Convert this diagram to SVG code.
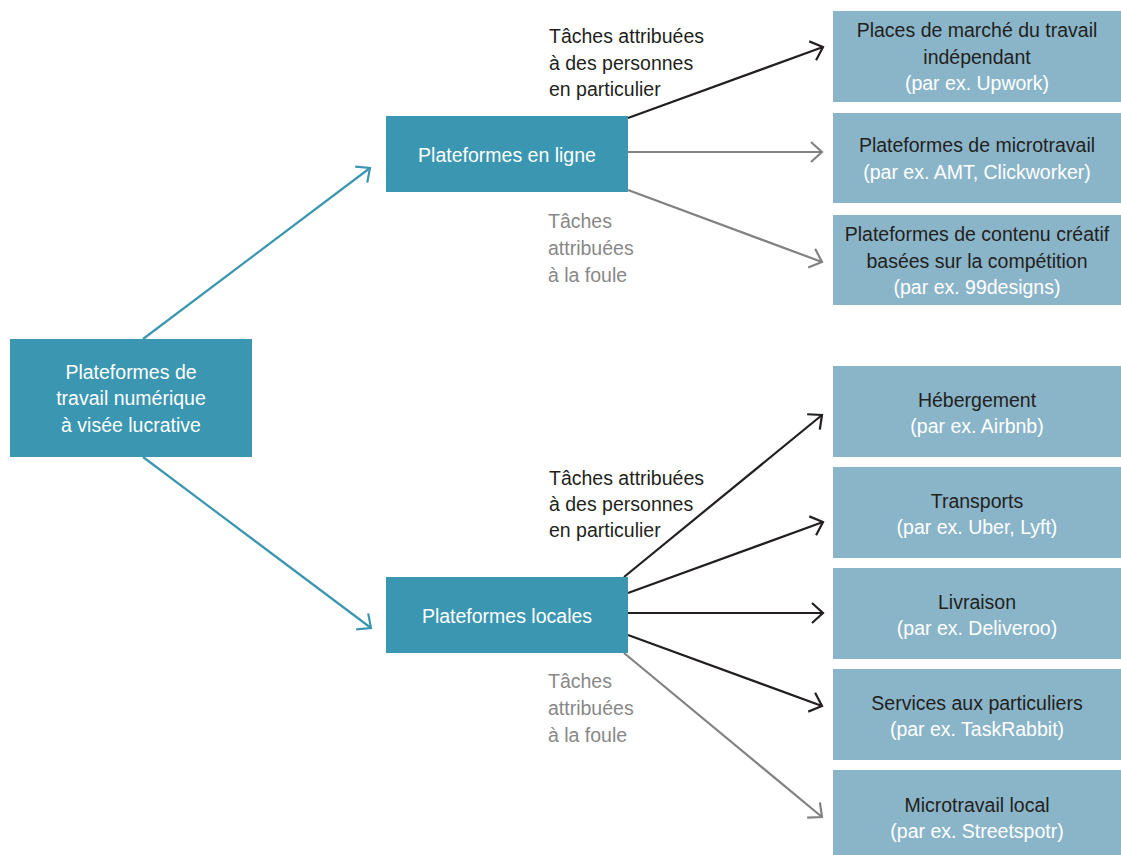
<svg xmlns="http://www.w3.org/2000/svg" width="1121" height="855" viewBox="0 0 1121 855">
<style>
text{font-family:"Liberation Sans",Arial,sans-serif;font-size:19.5px}
.dark{fill:#3b96b1}
.light{fill:#8ab5c9}
.wt{fill:#ffffff}
.bt{fill:#231f20}
.gt{fill:#888888}
.c{text-anchor:middle}
.lt{stroke:#3b96b1;stroke-width:2.2;fill:none}
.lb{stroke:#231f20;stroke-width:2.2;fill:none}
.lg{stroke:#828282;stroke-width:2.2;fill:none}
</style>
<defs>
<marker id="mt" viewBox="-14 -12 16 24" markerWidth="16" markerHeight="24" refX="0" refY="0" markerUnits="userSpaceOnUse" orient="auto"><path d="M-11,-10 L0,0 L-11,10" fill="none" stroke="#3b96b1" stroke-width="2.2"/></marker>
<marker id="mb" viewBox="-14 -12 16 24" markerWidth="16" markerHeight="24" refX="0" refY="0" markerUnits="userSpaceOnUse" orient="auto"><path d="M-11,-10 L0,0 L-11,10" fill="none" stroke="#231f20" stroke-width="2.2"/></marker>
<marker id="mg" viewBox="-14 -12 16 24" markerWidth="16" markerHeight="24" refX="0" refY="0" markerUnits="userSpaceOnUse" orient="auto"><path d="M-11,-10 L0,0 L-11,10" fill="none" stroke="#828282" stroke-width="2.2"/></marker>
</defs>
<g id="connectors">
<line class="lt" x1="143" y1="339" x2="370" y2="168" marker-end="url(#mt)"/>
<line class="lt" x1="143" y1="457" x2="371" y2="628" marker-end="url(#mt)"/>
<line class="lb" x1="628" y1="118" x2="823" y2="47" marker-end="url(#mb)"/>
<line class="lg" x1="628" y1="152" x2="822" y2="152" marker-end="url(#mg)"/>
<line class="lg" x1="628" y1="190" x2="822" y2="262" marker-end="url(#mg)"/>
<line class="lb" x1="624" y1="577" x2="822" y2="415" marker-end="url(#mb)"/>
<line class="lb" x1="628" y1="593" x2="823" y2="522" marker-end="url(#mb)"/>
<line class="lb" x1="628" y1="613" x2="823" y2="613" marker-end="url(#mb)"/>
<line class="lb" x1="628" y1="635" x2="822" y2="706" marker-end="url(#mb)"/>
<line class="lg" x1="624" y1="653" x2="822" y2="817" marker-end="url(#mg)"/>
</g>
<g id="labels">
<text class="bt" x="549"><tspan x="549" y="43">Tâches attribuées</tspan><tspan x="549" y="69.5">à des personnes</tspan><tspan x="549" y="96">en particulier</tspan></text>
<text class="gt" x="548"><tspan x="548" y="228">Tâches</tspan><tspan x="548" y="255">attribuées</tspan><tspan x="548" y="282">à la foule</tspan></text>
<text class="bt" x="549"><tspan x="549" y="485">Tâches attribuées</tspan><tspan x="549" y="511">à des personnes</tspan><tspan x="549" y="537">en particulier</tspan></text>
<text class="gt" x="548"><tspan x="548" y="688">Tâches</tspan><tspan x="548" y="715">attribuées</tspan><tspan x="548" y="742">à la foule</tspan></text>
</g>
<g id="root">
<rect class="dark" x="10" y="339" width="242" height="118"/>
<text class="wt c"><tspan x="131" y="379">Plateformes de</tspan><tspan x="131" y="405">travail numérique</tspan><tspan x="131" y="432">à visée lucrative</tspan></text>
</g>
<g id="en-ligne">
<rect class="dark" x="386" y="116" width="242" height="76"/>
<text class="wt c" x="507" y="162">Plateformes en ligne</text>
</g>
<g id="locales">
<rect class="dark" x="386" y="577" width="242" height="76"/>
<text class="wt c" x="507" y="623">Plateformes locales</text>
</g>
<g id="freelance">
<rect class="light" x="833" y="11" width="288" height="91"/>
<text class="c"><tspan class="bt" x="977" y="37">Places de marché du travail</tspan><tspan class="bt" x="977" y="63.5">indépendant</tspan><tspan class="wt" x="977" y="90">(par ex. Upwork)</tspan></text>
</g>
<g id="microtravail">
<rect class="light" x="833" y="113" width="288" height="90"/>
<text class="c"><tspan class="bt" x="977" y="152">Plateformes de microtravail</tspan><tspan class="wt" x="977" y="179">(par ex. AMT, Clickworker)</tspan></text>
</g>
<g id="creatif">
<rect class="light" x="833" y="215" width="288" height="90"/>
<text class="c"><tspan class="bt" x="977" y="241">Plateformes de contenu créatif</tspan><tspan class="bt" x="977" y="268">basées sur la compétition</tspan><tspan class="wt" x="977" y="294">(par ex. 99designs)</tspan></text>
</g>
<g id="hebergement">
<rect class="light" x="833" y="366" width="288" height="91"/>
<text class="c"><tspan class="bt" x="977" y="407">Hébergement</tspan><tspan class="wt" x="977" y="433">(par ex. Airbnb)</tspan></text>
</g>
<g id="transports">
<rect class="light" x="833" y="467" width="288" height="91"/>
<text class="c"><tspan class="bt" x="977" y="508">Transports</tspan><tspan class="wt" x="977" y="534">(par ex. Uber, Lyft)</tspan></text>
</g>
<g id="livraison">
<rect class="light" x="833" y="568" width="288" height="91"/>
<text class="c"><tspan class="bt" x="977" y="609">Livraison</tspan><tspan class="wt" x="977" y="635">(par ex. Deliveroo)</tspan></text>
</g>
<g id="services">
<rect class="light" x="833" y="669" width="288" height="91"/>
<text class="c"><tspan class="bt" x="977" y="710">Services aux particuliers</tspan><tspan class="wt" x="977" y="736">(par ex. TaskRabbit)</tspan></text>
</g>
<g id="microtravail-local">
<rect class="light" x="833" y="770" width="288" height="85"/>
<text class="c"><tspan class="bt" x="977" y="812">Microtravail local</tspan><tspan class="wt" x="977" y="838">(par ex. Streetspotr)</tspan></text>
</g>
</svg>
